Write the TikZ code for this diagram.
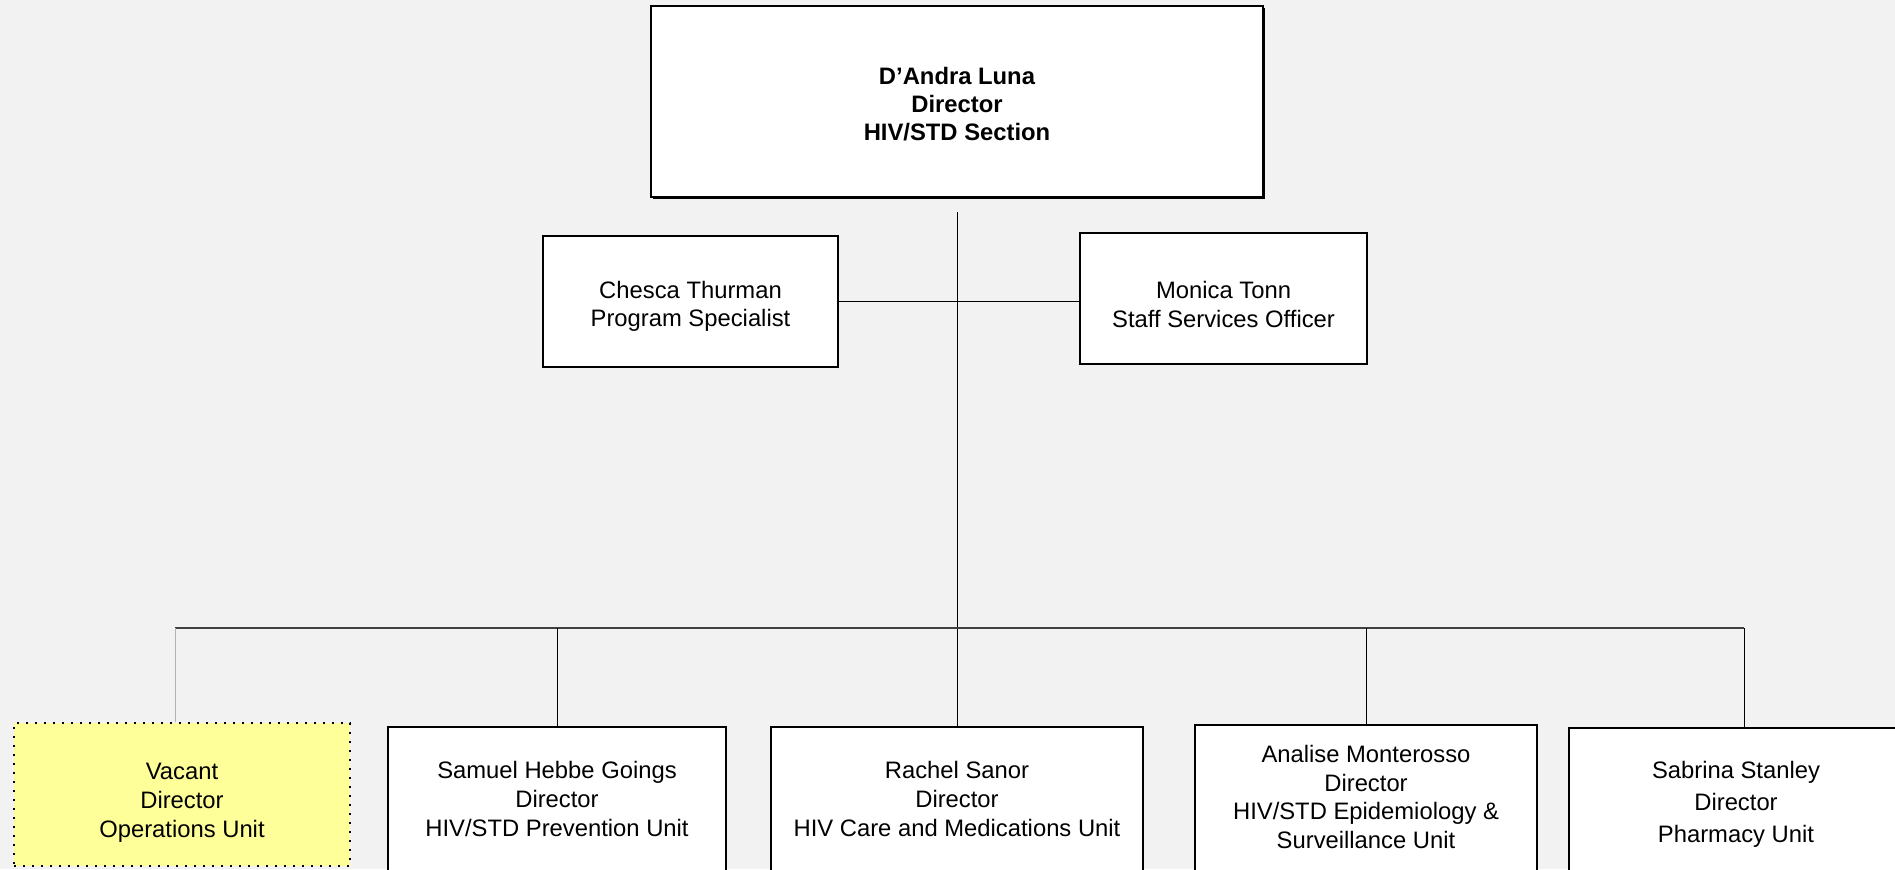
\documentclass[tikz,border=0pt]{standalone}
\usepackage{fontspec}
\setmainfont{Liberation Sans}
\usetikzlibrary{shadows}
\definecolor{bgcol}{HTML}{F2F2F2}
\definecolor{vacfill}{HTML}{FFFF99}
\begin{document}
\begin{tikzpicture}[x=0.5pt,y=-0.5pt,
  txt/.style={font=\fontsize{11.9pt}{14.4pt}\selectfont, align=center, inner sep=0pt},
  boldtxt/.style={font=\fontsize{11.9pt}{14pt}\selectfont\bfseries, align=center, inner sep=0pt},
  box/.style={draw=black, fill=white, inner sep=0pt},
  unitbox/.style={box, line width=1pt},
  staffbox/.style={box, line width=0.6pt},
  headbox/.style={box, line width=1.2pt,
    drop shadow={shadow xshift=1pt, shadow yshift=-1pt, fill=black, opacity=1}},
  vacbox/.style={draw=black, fill=vacfill, line width=1.2pt, dash pattern=on 1.2pt off 3.3pt, inner sep=0pt},
  conn/.style={draw=black, line width=0.5pt},
  busline/.style={draw=black!75, line width=0.8pt},
]
\clip (0,0) rectangle (1895,869);
\fill[bgcol] (0,0) rectangle (1895,869);

\node[headbox, minimum width=306pt, minimum height=95.5pt,
  label={[boldtxt, yshift=-1.2pt]center:{D’Andra Luna\\Director\\HIV/STD Section}}] (head) at (957,101.5) {};

\node[staffbox, minimum width=147.5pt, minimum height=65.5pt,
  label={[txt, yshift=-2.4pt]center:{Chesca Thurman\\Program Specialist}}] (chesca) at (690.5,301.5) {};
\node[staffbox, minimum width=143.5pt, minimum height=65.5pt,
  label={[txt, yshift=-3pt]center:{Monica Tonn\\Staff Services Officer}}] (monica) at (1223.5,298.5) {};

\node[vacbox, minimum width=168pt, minimum height=71.5pt,
  label={[txt, yshift=-4.25pt]center:{Vacant\\Director\\Operations Unit}}] (vacant) at (182,794.5) {};
\node[unitbox, minimum width=169pt, minimum height=86.5pt,
  label={[txt, yshift=7.25pt]center:{Samuel Hebbe Goings\\Director\\HIV/STD Prevention Unit}}] (samuel) at (557,813.5) {};
\node[unitbox, minimum width=186pt, minimum height=86.5pt,
  label={[txt, yshift=7.25pt]center:{Rachel Sanor\\Director\\HIV Care and Medications Unit}}] (rachel) at (957,813.5) {};
\node[unitbox, minimum width=171pt, minimum height=87.5pt,
  label={[txt, yshift=7.75pt]center:{Analise Monterosso\\Director\\HIV/STD Epidemiology \&\\Surveillance Unit}}] (analise) at (1366,812.5) {};
\node[unitbox, minimum width=167pt, minimum height=86pt,
  label={[txt, font=\fontsize{11.9pt}{16pt}\selectfont, yshift=5pt]center:{Sabrina Stanley\\Director\\Pharmacy Unit}}] (sabrina) at (1736,814) {};

\coordinate (busL) at (175,628);
\coordinate (busR) at (1744,628);

\draw[conn] ([yshift=-7pt]head.south) -- (rachel.north);
\draw[conn] (chesca.east) -- (chesca.east -| monica.west);
\draw[busline] (busL) -- (busR);
\draw[conn, draw=gray!60] (busL) -- (busL |- vacant.north);
\draw[conn] (samuel.north |- busL) -- (samuel.north);
\draw[conn] (analise.north |- busL) -- (analise.north);
\draw[conn] (busR) -- (busR |- sabrina.north);
\end{tikzpicture}
\end{document}
